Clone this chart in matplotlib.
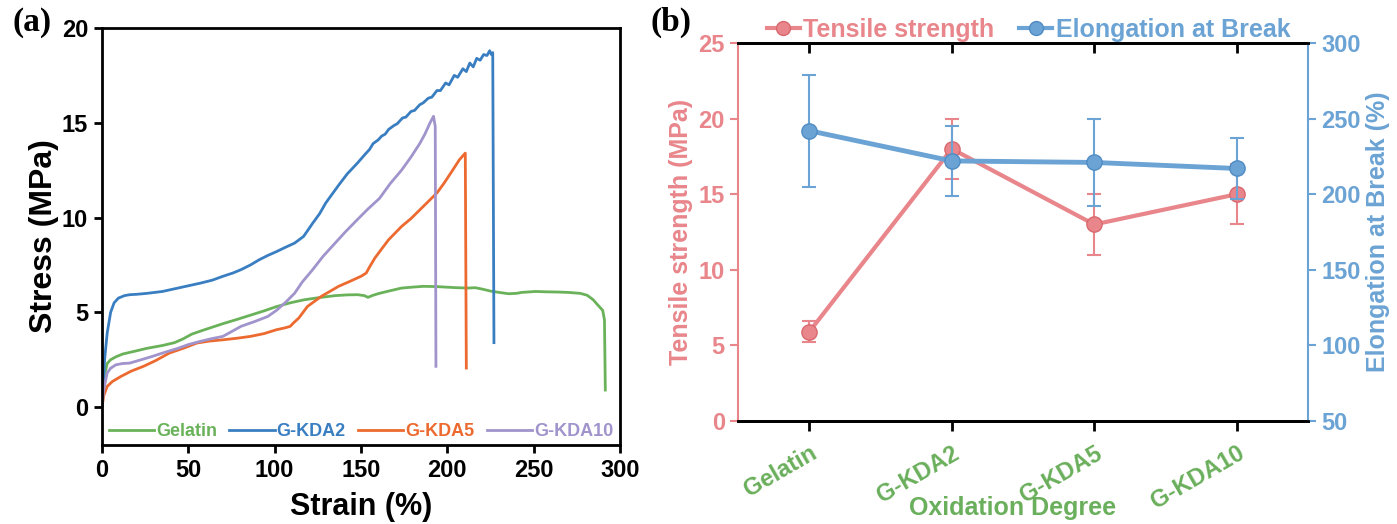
import matplotlib
matplotlib.use("Agg")
import matplotlib.pyplot as plt
from matplotlib.lines import Line2D

plt.rcParams['font.family'] = ['Liberation Sans', 'DejaVu Sans']
plt.rcParams['font.weight'] = 'bold'
plt.rcParams['axes.labelweight'] = 'bold'

# ---------------- Panel (a) data: stress-strain curves ----------------
gel_x = [0, 1, 2, 3, 5, 8, 12, 18.6, 26, 35, 42, 47, 52, 60, 70, 78, 86, 94, 101, 109, 117, 126, 135, 142, 148, 152, 154, 157, 160.6, 166, 173.5, 180, 186, 193, 199, 205, 212, 216, 220, 225, 230, 235.5, 240, 243, 251, 258, 264, 270, 277, 281, 284.5, 287, 290, 291, 291.5]
gel_y = [0, 1.2, 1.9, 2.3, 2.5, 2.65, 2.8, 2.94, 3.1, 3.25, 3.4, 3.6, 3.85, 4.1, 4.4, 4.62, 4.85, 5.08, 5.3, 5.5, 5.66, 5.78, 5.88, 5.92, 5.93, 5.88, 5.79, 5.9, 6.0, 6.12, 6.28, 6.33, 6.37, 6.36, 6.33, 6.3, 6.28, 6.3, 6.23, 6.12, 6.05, 5.98, 6.0, 6.05, 6.1, 6.08, 6.07, 6.05, 6.0, 5.9, 5.66, 5.4, 5.1, 4.6, 0.9]

kda2_x = [0, 1.5, 3, 5, 7, 9.5, 13, 16, 20, 26, 35, 44, 50, 57, 64, 70, 76, 80.5, 86, 91, 96, 101, 106, 111.5, 116.7, 119, 122, 126, 129.6, 133, 137, 142, 148, 152, 155, 157, 160, 162, 164, 166, 169, 171, 174, 176, 179, 181, 184, 186, 189, 191, 194, 196, 199, 201, 204, 206, 209, 211, 213, 215, 217, 219, 221, 223, 224.5, 225.5, 226.3, 227]
kda2_y = [0, 2.5, 3.9, 5.0, 5.5, 5.75, 5.88, 5.93, 5.95, 6.0, 6.1, 6.28, 6.4, 6.54, 6.7, 6.9, 7.08, 7.25, 7.5, 7.77, 8.0, 8.2, 8.42, 8.65, 9.0, 9.3, 9.7, 10.2, 10.77, 11.2, 11.7, 12.3, 12.88, 13.3, 13.6, 13.9, 14.1, 14.3, 14.4, 14.65, 14.85, 14.95, 15.25, 15.3, 15.6, 15.65, 15.95, 16.05, 16.3, 16.35, 16.7, 16.7, 17.1, 17.0, 17.5, 17.4, 17.85, 17.7, 18.15, 17.95, 18.4, 18.3, 18.6, 18.55, 18.8, 18.6, 18.7, 3.4]

kda5_x = [0, 1, 3, 6, 11, 17, 24, 31, 39, 47, 55, 62, 70, 78, 86, 94, 101, 106, 109, 111, 114, 119, 127, 137, 144, 150, 153, 155, 158, 162, 166, 173.5, 179, 184, 189, 194, 198, 202, 207, 210.4, 211]
kda5_y = [0, 0.6, 1.09, 1.35, 1.62, 1.9, 2.15, 2.45, 2.85, 3.1, 3.38, 3.48, 3.55, 3.63, 3.73, 3.88, 4.08, 4.18, 4.26, 4.45, 4.7, 5.31, 5.84, 6.37, 6.65, 6.9, 7.07, 7.4, 7.86, 8.35, 8.83, 9.53, 9.95, 10.4, 10.85, 11.3, 11.8, 12.35, 13.05, 13.4, 2.06]

kda10_x = [0, 1, 3, 5, 8, 12, 16, 22, 29, 36, 44, 50, 57, 63, 70, 75, 80.5, 88, 96, 101, 106, 111.5, 116, 122, 128, 135, 141, 148, 154, 160.6, 167, 173.5, 179, 184, 187, 190, 192, 193, 193.4]
kda10_y = [0, 0.9, 1.8, 2.05, 2.23, 2.3, 2.32, 2.48, 2.67, 2.88, 3.1, 3.3, 3.47, 3.6, 3.73, 3.98, 4.26, 4.5, 4.78, 5.1, 5.5, 6.0, 6.6, 7.25, 7.95, 8.65, 9.25, 9.9, 10.45, 11.0, 11.8, 12.5, 13.2, 13.9, 14.4, 15.0, 15.34, 14.8, 2.15]

curve_names = ['Gelatin', 'G-KDA2', 'G-KDA5', 'G-KDA10']
curve_colors = ['#6AB25A', '#3A7EC2', '#EC6A30', '#A194CC']

# ---------------- Panel (b) data ----------------
groups = ['Gelatin', 'G-KDA2', 'G-KDA5', 'G-KDA10']
tensile = [5.9, 18.0, 13.0, 15.0]
tensile_err = [0.7, 2.0, 2.0, 2.0]
elong = [242, 222, 221, 217]
elong_err = [37, 23, 29, 20]

red = '#E8868B'
blue = '#6BA3D4'
green = '#6AAF5C'

fig = plt.figure(figsize=(13.97, 5.24), dpi=100)

# ---------------- Panel (a) ----------------
axa = fig.add_axes([102/1397, 1-445/524, (620-102)/1397, (445-28)/524])
xs = [gel_x, kda2_x, kda5_x, kda10_x]
ys = [gel_y, kda2_y, kda5_y, kda10_y]
for x, y, n, c in zip(xs, ys, curve_names, curve_colors):
    axa.plot(x, y, color=c, lw=2.0, label=n)
axa.set_xlim(0, 300)
axa.set_ylim(-2, 20)
axa.set_xticks([0, 50, 100, 150, 200, 250, 300])
axa.set_yticks([0, 5, 10, 15, 20])
for s in axa.spines.values():
    s.set_linewidth(2.0)
axa.tick_params(direction='out', length=6, width=2, labelsize=17, pad=4)
for lbl in axa.get_xticklabels() + axa.get_yticklabels():
    lbl.set_fontweight('bold')
axa.set_xlabel('Strain (%)', fontsize=22, fontweight='bold', labelpad=7)
axa.set_ylabel('Stress (MPa)', fontsize=23, fontweight='bold', labelpad=2)
leg = axa.legend(loc='lower center', bbox_to_anchor=(0.5, -0.015), ncol=4, frameon=False,
                 prop={'size': 13, 'weight': 'bold'}, handlelength=2.5, handletextpad=0.1,
                 columnspacing=0.7, borderaxespad=0.2)
for t, c in zip(leg.get_texts(), curve_colors):
    t.set_color(c)
fig.text(12/1397, 1-22/524, '(a)', family='Liberation Serif', fontsize=24,
         fontweight='bold', va='center', ha='left')

# ---------------- Panel (b) ----------------
axb = fig.add_axes([738/1397, 1-421/524, (1308-738)/1397, (421-43)/524])
axb2 = axb.twinx()
pos = list(range(len(groups)))
axb.errorbar(pos, tensile, yerr=tensile_err, color=red, lw=3.0, marker='o', ms=11,
             mfc=red, mec='#D9686E', ecolor=red, elinewidth=1.5, capsize=5, capthick=1.5,
             zorder=3)
axb2.errorbar(pos, elong, yerr=elong_err, color=blue, lw=3.5, marker='o', ms=11,
              mfc=blue, mec='#4F8BC4', ecolor=blue, elinewidth=1.5, capsize=5, capthick=1.5,
              zorder=3)
axb.set_xlim(-0.5, 3.5)
axb.set_ylim(0, 25)
axb2.set_ylim(50, 300)
axb.set_yticks([0, 5, 10, 15, 20, 25])
axb2.set_yticks([50, 100, 150, 200, 250, 300])
axb.set_xticks(pos)
axb.set_xticklabels(groups, rotation=30, ha='right', va='top', rotation_mode='anchor',
                    color=green, fontsize=17, fontweight='bold')
axb.tick_params(axis='x', direction='out', length=7, width=2, colors='black', pad=8)
for lbl in axb.get_xticklabels():
    lbl.set_color(green)
axb.tick_params(axis='y', direction='out', length=6, width=1.5, colors=red, labelsize=17)
axb2.tick_params(axis='y', direction='out', length=6, width=1.5, colors=blue, labelsize=17)
for lbl in axb.get_yticklabels() + axb2.get_yticklabels():
    lbl.set_fontweight('bold')

top = axb.secondary_xaxis('top')
top.set_xticks(pos)
top.set_xticklabels([])
top.tick_params(direction='in', length=7, width=2, colors='black')
top.spines['top'].set_visible(False)

for ax in (axb, axb2):
    ax.spines['top'].set_color('black')
    ax.spines['top'].set_linewidth(2.0)
    ax.spines['bottom'].set_color('black')
    ax.spines['bottom'].set_linewidth(2.0)
axb.spines['left'].set_color(red)
axb.spines['left'].set_linewidth(1.5)
axb.spines['right'].set_visible(False)
axb2.spines['left'].set_visible(False)
axb2.spines['right'].set_color(blue)
axb2.spines['right'].set_linewidth(1.5)

axb.set_ylabel('Tensile strength (MPa)', color=red, fontsize=18, fontweight='bold', labelpad=4)
axb2.set_ylabel('Elongation at Break (%)', color=blue, fontsize=18, fontweight='bold', labelpad=4)
fig.text(1013/1397, 1-508/524, 'Oxidation Degree', color=green, fontsize=18,
         fontweight='bold', ha='center', va='center')

handles = [Line2D([], [], color=red, lw=3, marker='o', ms=10, mfc=red, mec='#D9686E'),
           Line2D([], [], color=blue, lw=3, marker='o', ms=10, mfc=blue, mec='#4F8BC4')]
legb = axb.legend(handles, ['Tensile strength', 'Elongation at Break'], loc='lower center',
                  bbox_to_anchor=(0.51, 0.97), ncol=2, frameon=False,
                  prop={'size': 18, 'weight': 'bold'},
                  handlelength=1.3, handletextpad=0.15, columnspacing=1.0, borderaxespad=0.1)
for t, c in zip(legb.get_texts(), [red, blue]):
    t.set_color(c)
fig.text(650/1397, 1-22/524, '(b)', family='Liberation Serif', fontsize=24,
         fontweight='bold', va='center', ha='left')

fig.savefig('out.png', dpi=100)
